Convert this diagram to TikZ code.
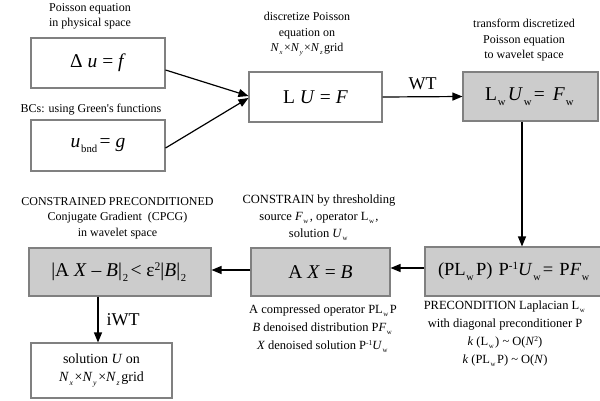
\documentclass[tikz,border=0pt]{standalone}
\usepackage{fontspec}
\setmainfont{Liberation Serif}
\usepackage{graphicx}
\usetikzlibrary{arrows.meta}
\newcommand\sbx[1]{\kern0.04em\raisebox{-0.55ex}{\scalebox{0.55}{#1}}\kern0.12em}
\newcommand\spx[1]{\raisebox{0.75ex}{\scalebox{0.6}{#1}}}
\tikzset{
  box/.style={draw=black!50, line width=1.1pt, fill=white, inner sep=0pt,
    font=\fontsize{19.5}{24}\selectfont},
  gbox/.style={box, fill=black!20},
  ttl/.style={align=center, inner sep=0pt, font=\fontsize{12}{15.5}\selectfont},
  captxt/.style={align=center, inner sep=0pt, font=\fontsize{12.5}{18}\selectfont},
  lbl/.style={inner sep=0pt, font=\fontsize{18}{20}\selectfont},
  arr/.style={-{Triangle[length=10pt,width=8pt]}, line width=1.2pt}
}
\begin{document}
\begin{tikzpicture}[x=1pt,y=-1pt]
\useasboundingbox (0,0) rectangle (600,400);
% boxes
\node[box, minimum width=134pt, minimum height=50pt] (b1) at (98,63) {Δ \textit{u} = \textit{f}};
\node[box, minimum width=134pt, minimum height=51pt] (b2) at (98,145.5) {\textit{u}\sbx{bnd}= \textit{g}};
\node[box, minimum width=133pt, minimum height=50pt] (b3) at (315.5,97) {L \textit{U} = \textit{F}};
\node[gbox, minimum width=135pt, minimum height=49pt] (b4) at (530.5,96.5) {L\sbx{w}\textit{U}\sbx{w} = \,\textit{F}\sbx{w}};
\node[gbox, minimum width=182pt, minimum height=49pt, text width=176pt, align=left,
  font=\fontsize{18.5}{24}\selectfont] (b5) at (516,271.5) {\kern10pt(PL\sbx{w}P) P\spx{-1}\textit{U}\sbx{w} = P\textit{F}\sbx{w}};
\node[gbox, minimum width=139pt, minimum height=48pt] (b6) at (320.5,272) {A \textit{X} = \textit{B}};
\node[gbox, minimum width=182pt, minimum height=48pt] (b7) at (120,272) {|A \textit{X} – \textit{B}|\sbx{2} < ε\spx{2}|\textit{B}|\sbx{2}};
\node[box, minimum width=141pt, minimum height=55pt, align=center,
  font=\fontsize{14}{18}\selectfont] (b8) at (101.5,370.5)
  {solution \textit{U} on\\ \textit{N}\sbx{\textit{x}}×\textit{N}\sbx{\textit{y}}×\textit{N}\sbx{\textit{z}}grid};
% titles and captions
\node[ttl] (t1) at (90,16.5) {Poisson equation\\in physical space};
\node[ttl] (t2) at (91,110) {BCs: using Green\textquotesingle s functions};
\node[ttl] (t3) at (307,34.5) {discretize Poisson\\equation on\\
  \textit{N}\sbx{\textit{x}}×\textit{N}\sbx{\textit{y}}×\textit{N}\sbx{\textit{z}}grid};
\node[ttl] (t4) at (524,40.5) {transform discretized\\Poisson equation\\to wavelet space};
\node[ttl] (t5) at (117.5,218) {CONSTRAINED PRECONDITIONED\\Conjugate Gradient\ \ (CPCG)\\in wavelet space};
\node[captxt, font=\fontsize{12.5}{17}\selectfont] (t6) at (319,218) {CONSTRAIN by thresholding\\source \textit{F}\sbx{w}, operator L\sbx{w},\\solution \textit{U}\sbx{w}};
\node[captxt] (t7) at (323,329) {A compressed operator PL\sbx{w}P\\
  \textit{B} denoised distribution P\textit{F}\sbx{w}\\
  \textit{X} denoised solution P\spx{-1}\textit{U}\sbx{w}};
\node[captxt] (t8) at (505,334) {PRECONDITION Laplacian L\sbx{w}\\with diagonal preconditioner P\\
  \textit{k} (L\sbx{w}) \textasciitilde{} O(\textit{N}\spx{2})\\
  \textit{k} (PL\sbx{w}P) \textasciitilde{} O(\textit{N})};
% connectors
\draw[arr] ([yshift=-7pt]b1.east) -- ([yshift=1pt]b3.west);
\draw[arr] ([yshift=-2.5pt]b2.east) -- ([yshift=-1pt]b3.west);
\draw[arr] (b3.east) -- (b4.west) node[lbl, midway, above=6pt] (wt) {WT};
\draw[arr] ([xshift=-8.5pt]b4.south) -- ([xshift=-8.5pt]b4.south |- b5.north);
\draw[arr] ([yshift=3.5pt]b5.west) -- ([yshift=3.5pt]b5.west -| b6.east);
\draw[arr] ([yshift=2pt]b6.west) -- ([yshift=2pt]b6.west -| b7.east);
\draw[arr] ([xshift=-22pt]b7.south) -- ([xshift=-22pt]b7.south |- b8.north)
  node[lbl, midway, right=8pt] (iwt) {iWT};
\end{tikzpicture}
\end{document}
